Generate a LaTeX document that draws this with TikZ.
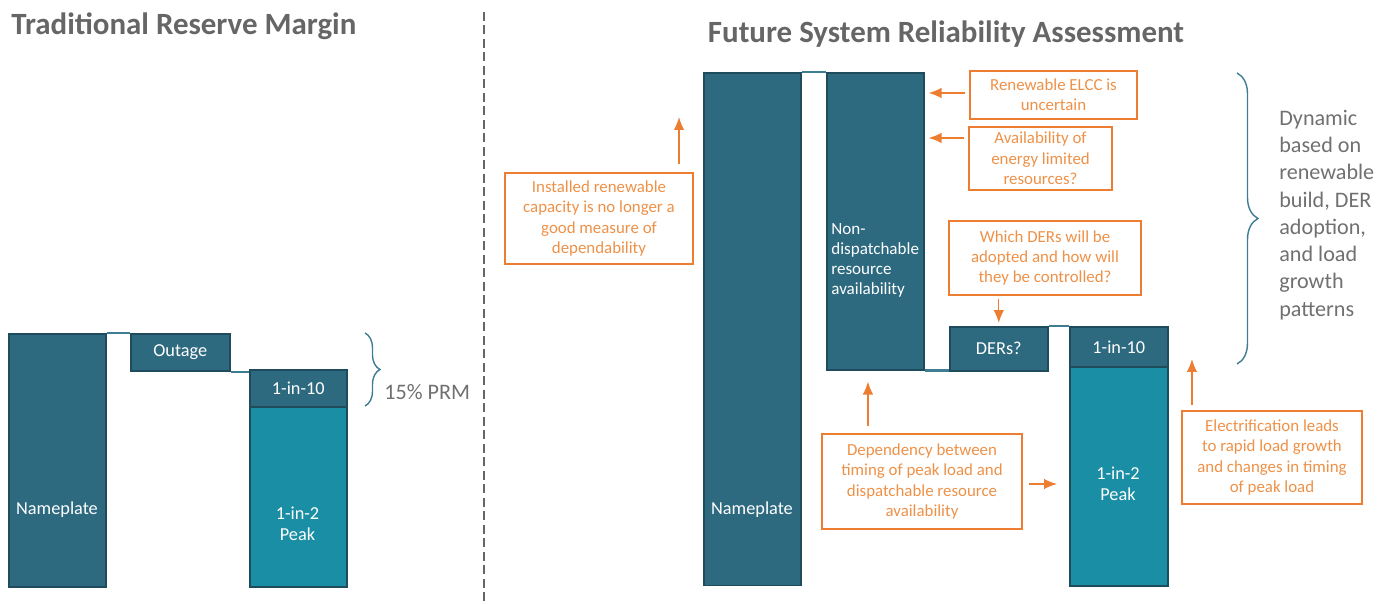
\documentclass[tikz,border=0pt]{standalone}
\usepackage{fontspec}
\setmainfont{Carlito}
\usepackage{xcolor}
\usepackage{tikz}
\usetikzlibrary{calc, positioning, arrows.meta, decorations.pathreplacing}

\definecolor{bardark}{HTML}{2D6A7F}
\definecolor{baredge}{HTML}{1F4C5C}
\definecolor{barlight}{HTML}{1A8EA4}
\definecolor{linkteal}{HTML}{3E7D93}
\definecolor{noteorange}{HTML}{ED7D31}
\definecolor{notetext}{HTML}{EE9148}
\definecolor{titlegray}{HTML}{666666}
\definecolor{sidegray}{HTML}{707070}

\tikzset{
    bar/.style={draw=baredge, line width=0.9pt, fill=bardark, inner sep=0pt,
        text=white, font=\fontsize{10.4}{12.4}\selectfont, anchor=north west},
    peakbar/.style={bar, fill=barlight},
    barlabel/.style={text=white, font=\fontsize{10.4}{12.2}\selectfont, align=center, inner sep=0pt},
    link/.style={linkteal, line width=1.2pt},
    note/.style={draw=noteorange, line width=1.2pt, text=notetext, align=center,
        inner sep=0pt, font=\fontsize{9.6}{11.6}\selectfont},
    notearrow/.style={-{Latex[length=0.26cm, width=0.21cm]}, noteorange, line width=0.8pt},
    sidetext/.style={text=sidegray, inner sep=0pt, align=left,
        font=\fontsize{12.6}{15.5}\selectfont},
    heading/.style={text=titlegray, inner sep=0pt, font=\fontsize{17.6}{20}\selectfont\bfseries},
    curly/.style={linkteal, line width=0.8pt, decorate,
        decoration={brace, amplitude=#1, aspect=0.5}},
}

\begin{document}
\begin{tikzpicture}[x=0.02cm, y=-0.02cm]
    \useasboundingbox (0,0) rectangle (1393,604);

    % titles + divider
    \node[heading, anchor=west] (titleL) at (11,26) {Traditional Reserve Margin};
    \node[heading] (titleR) at (946,34) {Future System Reliability Assessment};
    \draw[titlegray, line width=1.6pt, dash pattern=on 0.18cm off 0.09cm] (484,12) -- (484,604);

    % left: traditional margin
    \node[bar, minimum width=1.94cm, minimum height=5.06cm] (np1) at (8,333) {};
    \node[barlabel] at (57,510) {Nameplate};
    \node[bar, minimum width=1.98cm, minimum height=0.74cm] (out) at (130,333) {Outage};
    \node[bar, minimum width=1.94cm, minimum height=0.74cm] (ten1) at (249,369) {1-in-10};
    \node[peakbar, minimum width=1.94cm, minimum height=3.6cm] (peak1) at (249,406) {};
    \node[barlabel] at (297.5,524) {1-in-2\\Peak};
    \draw[link] (np1.north east) -- (np1.north east -| out.west);
    \draw[link] (out.south east) -- (out.south east -| ten1.west);

    \draw[curly=0.3cm] (365,333) -- (365,406);
    \node[sidetext, anchor=west] (prm) at (384,392) {15\% PRM};

    % right: future assessment
    \node[bar, minimum width=1.94cm, minimum height=10.26cm] (np2) at (703,72) {};
    \node[barlabel] at (752,510) {Nameplate};
    \node[bar, minimum width=1.94cm, minimum height=5.94cm] (nd) at (826,72) {};
    \node[barlabel, anchor=west, align=left, font=\fontsize{9.7}{11.4}\selectfont] at (831,260)
        {Non-\\dispatchable\\resource\\availability};
    \node[bar, minimum width=1.96cm, minimum height=0.88cm] (ders) at (949,326) {DERs?};
    \node[bar, minimum width=1.96cm, minimum height=0.8cm] (ten2) at (1069,326) {1-in-10};
    \node[peakbar, minimum width=1.96cm, minimum height=4.38cm] (peak2) at (1069,366) {};
    \node[barlabel] at (1118,484) {1-in-2\\Peak};
    \draw[link] (np2.north east) -- (np2.north east -| nd.west);
    \draw[link] (nd.south east) -- (nd.south east -| ders.west);
    \draw[link] (ders.north east) -- (ders.north east -| ten2.west);

    % notes
    \node[note, minimum width=3.34cm, minimum height=0.96cm] (elcc) at (1053.5,95)
        {Renewable ELCC is\\uncertain};
    \node[note, minimum width=2.86cm, minimum height=1.26cm] (avail) at (1040.5,158.5)
        {Availability of\\energy limited\\resources?};
    \node[note, minimum width=3.84cm, minimum height=1.48cm] (which) at (1045,258)
        {Which DERs will be\\adopted and how will\\they be controlled?};
    \node[note, minimum width=3.76cm, minimum height=1.82cm] (inst) at (599,218.5)
        {Installed renewable\\capacity is no longer a\\good measure of\\dependability};
    \node[note, minimum width=4cm, minimum height=1.9cm] (dep) at (922,481.5)
        {Dependency between\\timing of peak load and\\dispatchable resource\\availability};
    \node[note, minimum width=3.6cm, minimum height=1.86cm] (elec) at (1272,457.5)
        {Electrification leads\\to rapid load growth\\and changes in timing\\of peak load};

    \draw[notearrow] ($(elcc.west)+(-4,-2)$) -- ($(nd.east |- elcc.west)+(4,-2)$);
    \draw[notearrow] ($(avail.north west)+(-4,12)$) -- ($(nd.east |- avail.north west)+(4,12)$);
    \draw[notearrow] ($(ders.north |- which.south)+(0,3)$) -- ($(ders.north)+(0,-3)$);
    \coordinate (instTip) at ($(inst.north east)+(-15,0)$);
    \draw[notearrow] ($(instTip)+(0,-8)$) -- ($(instTip)+(0,-55)$);
    \coordinate (depTip) at ($(dep.north west)+(47,0)$);
    \draw[notearrow] ($(depTip)+(0,-7)$) -- ($(nd.south -| depTip)+(0,11)$);
    \draw[notearrow] ($(dep.east)+(6,2.5)$) -- ($(peak2.west |- dep.east)+(-12,2.5)$);
    \coordinate (elecTip) at ($(elec.north west)+(11,0)$);
    \draw[notearrow] ($(elecTip)+(0,-5)$) -- ($(elecTip)+(0,-51)$);

    \draw[curly=0.42cm] (1237,73) -- (1237,364);
    \node[sidetext, anchor=west] (dyn) at (1279,215)
        {Dynamic\\based on\\renewable\\build, DER\\adoption,\\and load\\growth\\patterns};
\end{tikzpicture}
\end{document}
